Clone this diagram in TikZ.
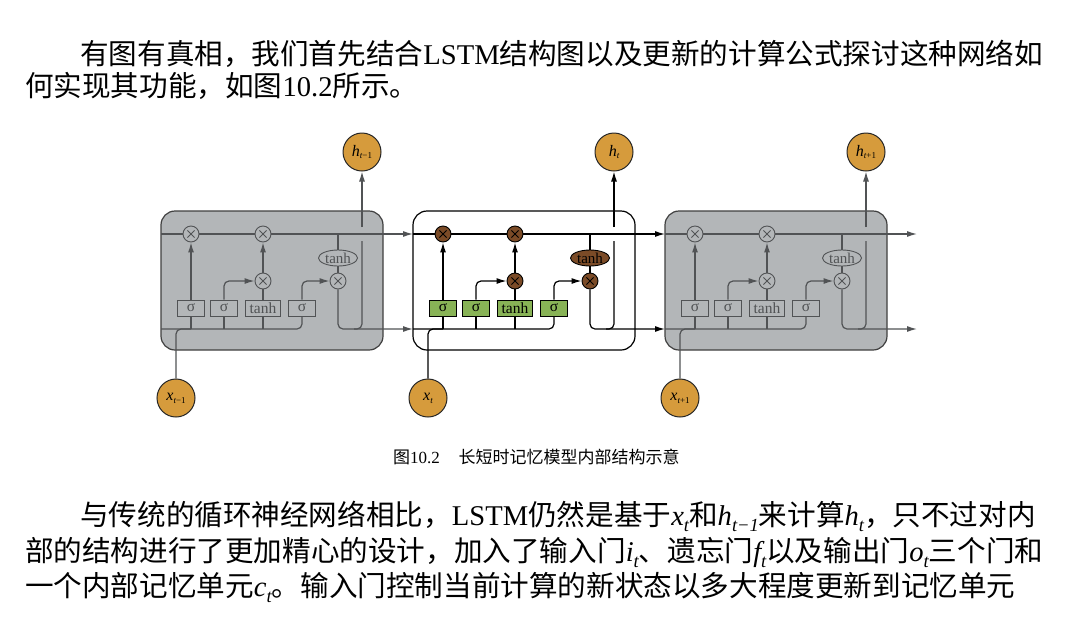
\documentclass[tikz,border=0pt]{standalone}
\usepackage{fontspec}
\setmainfont{Liberation Serif}
\newfontfamily\cjk{Noto Sans CJK SC}
\usetikzlibrary{arrows.meta,shapes.geometric}

\definecolor{cellgray}{HTML}{B3B6B8}
\definecolor{linegray}{HTML}{515355}
\definecolor{ioorange}{HTML}{D69B3C}
\definecolor{gatebrown}{HTML}{7B4B27}
\definecolor{gategreen}{HTML}{88B356}
\colorlet{mulx}{black}

% italic variable with a lowered subscript, for the running text
\newcommand\mv[2]{{\itshape #1\raisebox{-0.22em}{\fontsize{18.5}{18.5}\selectfont #2}}}
% label inside the input/output circles
\newcommand\iolabel[2]{{\fontsize{16}{16}\selectfont\itshape #1\raisebox{-2.8pt}{\fontsize{9}{9}\selectfont #2}}}

\tikzset{
  para/.style={anchor=base west, inner sep=0pt, font=\fontsize{28.6}{30}\selectfont},
  capt/.style={anchor=base west, inner sep=0pt, font=\fontsize{17}{18}\selectfont},
  cellbox/.style={rectangle, rounded corners=14pt, minimum width=222pt, minimum height=139pt, line width=1.2pt},
  mul/.style={circle, minimum size=16pt, inner sep=0pt, line width=.9pt,
    path picture={\draw[mulx, line width=.9pt]
      ([shift={(-3.6pt,-3.6pt)}]path picture bounding box.center) -- ([shift={(3.6pt,3.6pt)}]path picture bounding box.center)
      ([shift={(-3.6pt,3.6pt)}]path picture bounding box.center) -- ([shift={(3.6pt,-3.6pt)}]path picture bounding box.center);}},
  gate/.style={rectangle, minimum height=16pt, minimum width=27pt, inner sep=0pt, line width=.9pt, font=\fontsize{15.5}{15.5}\selectfont},
  squash/.style={ellipse, minimum width=39pt, minimum height=16pt, inner sep=0pt, line width=.9pt, font=\fontsize{15}{15}\selectfont},
  io/.style={circle, minimum size=38pt, inner sep=0pt, fill=ioorange, draw=black!85, line width=1pt},
  conn/.style={line width=1.2pt},
  arr/.style={conn, -{Latex[length=10pt,width=6pt]}},
}

% one LSTM cell: #1 left edge, #2 name key, #3 time subscript,
% #4 line colour, #5 box fill, #6 multiply fill, #7 symbol colour
\newcommand\lstmcell[7]{%
  \colorlet{mulx}{#7}%
  \coordinate (tl#2) at (#1,234);
  \coordinate (tr#2) at (#1+252,234);
  \coordinate (bl#2) at (#1,329);
  \coordinate (br#2) at (#1+252,329);
  \coordinate (hj#2) at (#1+193,329);
  \coordinate (hg#2) at (#1+201,241);
  \coordinate (hs#2) at (#1+201,227);
  \coordinate (xj#2) at (#1+30,329);
  \node[mul, fill=#6, draw=#4] (f#2) at (#1+30,234) {};
  \node[mul, fill=#6, draw=#4] (c#2) at (#1+102,234) {};
  \node[mul, fill=#6, draw=#4] (u#2) at (#1+102,281) {};
  \node[mul, fill=#6, draw=#4] (o#2) at (#1+177,281) {};
  \node[squash, fill=#6, draw=#4, text=#7] (th#2) at (#1+177,258) {tanh};
  \node[gate, fill=#5, draw=#4, text=#7] (ga#2) at (#1+30,308) {σ};
  \node[gate, fill=#5, draw=#4, text=#7] (gb#2) at (#1+63,308) {σ};
  \node[gate, fill=#5, draw=#4, text=#7, minimum width=35pt] (gc#2) at (#1+102,308) {tanh};
  \node[gate, fill=#5, draw=#4, text=#7] (gd#2) at (#1+141,308) {σ};
  \node[io] (h#2) at (#1+201,152) {\iolabel{h}{#3}};
  \node[io] (x#2) at (#1+15,398) {\iolabel{x}{#3}};
  \begin{scope}[color=#4]
    % cell state line
    \draw[conn] (tl#2) -- (f#2);
    \draw[conn] (f#2) -- (c#2);
    \draw[arr] (c#2) -- (tr#2);
    \draw[conn] (th#2.north) -- (th#2.north |- tl#2);
    \draw[conn] (th#2) -- (o#2);
    % gates
    \draw[arr] (ga#2) -- (f#2);
    \draw[arr, rounded corners=5pt] (gb#2.north) |- (u#2);
    \draw[conn] (gc#2) -- (u#2);
    \draw[arr] (u#2) -- (c#2);
    \draw[arr, rounded corners=5pt] (gd#2.north) |- (o#2);
    % hidden state and input line
    \draw[conn, rounded corners=5pt] (bl#2) -| (gd#2.south);
    \draw[conn] (ga#2.south) -- (ga#2.south |- bl#2);
    \draw[conn] (gb#2.south) -- (gb#2.south |- bl#2);
    \draw[conn] (gc#2.south) -- (gc#2.south |- bl#2);
    \draw[conn, rounded corners=5pt] (x#2) |- (xj#2);
    % output
    \draw[arr, rounded corners=5pt] (o#2.south) |- (br#2);
    \draw[conn, rounded corners=5pt] (hj#2) -| (hg#2);
    \draw[arr] (hs#2) -- (h#2);
  \end{scope}
}

\begin{document}
\begin{tikzpicture}[x=1pt, y=-1pt]
  \fill[white] (0,0) rectangle (1077,622);
  \useasboundingbox (0,0) rectangle (1077,622);

  \node[para] (t1) at (80,64.5) {{\cjk 有图有真相，我们首先结合}LSTM{\cjk 结构图以及更新的计算公式探讨这种网络如}};
  \node[para] (t2) at (25,96) {{\cjk 何实现其功能，如图}10.2{\cjk 所示。}};

  % cell frames
  \node[cellbox, fill=cellgray, draw=black!75] (cella) at (272,280.5) {};
  \node[cellbox, fill=white, draw=black] (cellb) at (524,280.5) {};
  \node[cellbox, fill=cellgray, draw=black!75] (cellc) at (776,280.5) {};

  \lstmcell{161}{a}{t\upshape −1}{linegray}{cellgray}{cellgray}{linegray}
  \lstmcell{413}{b}{t}{black}{gategreen}{gatebrown}{black}
  \lstmcell{665}{c}{t\upshape +1}{linegray}{cellgray}{cellgray}{linegray}

  \node[capt] (cap) at (393,463) {{\cjk 图}10.2\hspace{1.1em}{\cjk 长短时记忆模型内部结构示意}};

  \node[para] (b1) at (80,525) {{\cjk 与传统的循环神经网络相比，}LSTM{\cjk 仍然是基于}\mv{x}{t}{\cjk 和}\mv{h}{t−1}{\cjk 来计算}\mv{h}{t}{\cjk ，只不过对内}};
  \node[para] (b2) at (25,561) {{\cjk 部的结构进行了更加精心的设计，加入了输入门}\mv{i}{t}{\cjk 、遗忘门}\mv{f}{t}{\cjk 以及输出门}\mv{o}{t}{\cjk 三个门和}};
  \node[para] (b3) at (25,596) {{\cjk 一个内部记忆单元}\mv{c}{t}{\cjk 。输入门控制当前计算的新状态以多大程度更新到记忆单元}};
\end{tikzpicture}
\end{document}
